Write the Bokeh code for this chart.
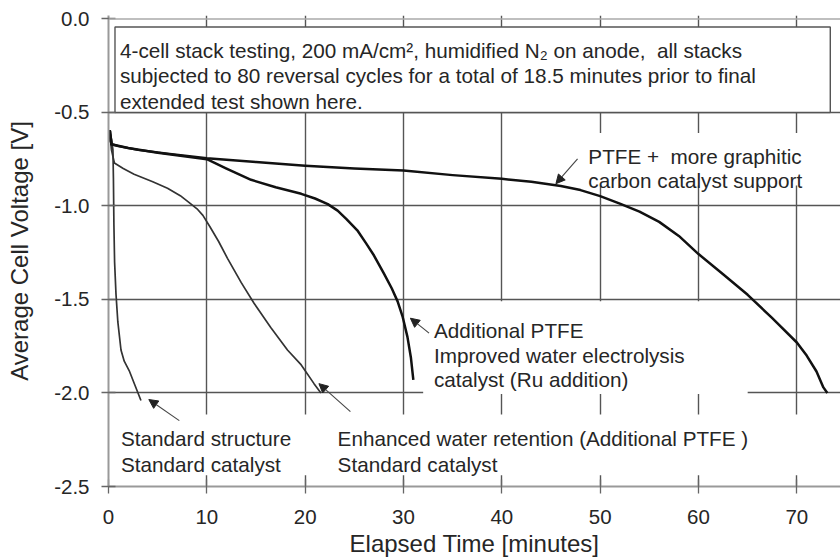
from bokeh.plotting import figure
from bokeh.models import (FixedTicker, Arrow, NormalHead, Label, Span, Range1d,
                          NumeralTickFormatter)
from bokeh.embed import file_html
from bokeh.resources import INLINE

# ---------------- data ----------------
x_ticks = [0, 10, 20, 30, 40, 50, 60, 70]
y_ticks = [0.0, -0.5, -1.0, -1.5, -2.0, -2.5]

# Standard structure / Standard catalyst
std_x = [0.0, 0.15, 0.3, 0.45, 0.5, 0.55, 0.62, 0.76, 0.95, 1.27, 1.6, 2.1, 2.7, 3.3]
std_y = [-0.66, -0.61, -0.64, -0.70, -0.85, -1.10, -1.30, -1.47, -1.62, -1.77, -1.83,
         -1.88, -1.96, -2.04]

# Enhanced water retention (Additional PTFE) / Standard catalyst
ret_x = [0.0, 0.15, 0.3, 0.6, 1.5, 2.6, 4.5, 6.0, 7.3, 8.4, 9.0, 9.6, 10.3, 11.2, 12.1,
         13.5, 14.8, 16.5, 18.2, 19.6, 20.9, 21.6]
ret_y = [-0.66, -0.62, -0.70, -0.77, -0.80, -0.83, -0.87, -0.905, -0.945, -0.99, -1.015,
         -1.05, -1.11, -1.19, -1.28, -1.41, -1.52, -1.65, -1.77, -1.85, -1.95, -2.00]

# Additional PTFE / Improved water electrolysis catalyst (Ru addition)
ru_x = [0.0, 0.15, 0.3, 2.0, 5.0, 10.0, 12.0, 14.5, 17.0, 19.6, 21.0, 22.3, 23.3, 24.2,
        25.3, 26.2, 27.0, 28.0, 28.8, 29.4, 29.9, 30.4, 30.75, 31.0]
ru_y = [-0.64, -0.60, -0.67, -0.69, -0.715, -0.75, -0.80, -0.86, -0.90, -0.935, -0.96,
        -0.99, -1.025, -1.07, -1.13, -1.20, -1.265, -1.36, -1.44, -1.51, -1.59, -1.70,
        -1.81, -1.93]

# PTFE + more graphitic carbon catalyst support
gra_x = [0.0, 0.15, 0.3, 1.0, 3.0, 6.0, 10.0, 15.0, 20.0, 25.0, 30.0, 35.0, 40.0, 43.0,
         46.0, 48.0, 50.0, 52.0, 54.0, 56.0, 58.0, 60.0, 62.5, 65.0, 67.5, 70.0, 71.0,
         72.0, 72.7, 73.1]
gra_y = [-0.64, -0.60, -0.67, -0.68, -0.70, -0.72, -0.745, -0.765, -0.785, -0.80, -0.81,
         -0.835, -0.855, -0.87, -0.893, -0.915, -0.947, -0.987, -1.03, -1.085, -1.16, -1.257,
         -1.365, -1.475, -1.60, -1.73, -1.80, -1.885, -1.97, -2.0]

NB = "\u00a0"
note_lines = ["4-cell stack testing, 200 mA/cm\u00b2, humidified N\u2082 on anode," + NB + " all stacks",
              "subjected to 80 reversal cycles for a total of 18.5 minutes prior to final",
              "extended test shown here."]
std_label = ["Standard structure", "Standard catalyst"]
ret_label = ["Enhanced water retention (Additional PTFE )", "Standard catalyst"]
ru_label = ["Additional PTFE", "Improved water electrolysis", "catalyst (Ru addition)"]
gra_label = ["PTFE +" + NB + " more graphitic", "carbon catalyst support"]

FONT = "Liberation Sans"
TXT = "#262626"
GRID = "#555555"
LBL_SIZE = "20.7px"

p = figure(width=840, height=559, output_backend="svg", toolbar_location=None,
           x_range=Range1d(0, 74.44), y_range=Range1d(-2.5, 0.0186),
           min_border_left=108, min_border_right=0, min_border_top=15,
           min_border_bottom=73)
p.outline_line_color = None
p.background_fill_color = "white"
p.border_fill_color = "white"

# axes
p.xaxis.ticker = FixedTicker(ticks=x_ticks)
p.yaxis.ticker = FixedTicker(ticks=y_ticks)
p.xaxis.formatter = NumeralTickFormatter(format="0")
p.yaxis.formatter = NumeralTickFormatter(format="0.0")
p.xaxis.axis_label = "Elapsed Time [minutes]"
p.yaxis.axis_label = "Average Cell Voltage [V]"
for ax in (p.xaxis[0], p.yaxis[0]):
    ax.axis_line_color = "#999999"
    ax.axis_line_width = 2
    ax.major_tick_line_color = "#666666"
    ax.major_tick_line_width = 1.3
    ax.major_tick_in = 7
    ax.major_tick_out = 7
    ax.minor_tick_line_color = None
    ax.major_label_text_font = FONT
    ax.major_label_text_font_size = "20.5px"
    ax.major_label_text_color = TXT
    ax.axis_label_text_font = FONT
    ax.axis_label_text_font_size = "24px"
    ax.axis_label_text_font_style = "normal"
    ax.axis_label_text_color = TXT
p.xaxis.major_label_standoff = 16
p.xaxis.axis_label_standoff = 3
p.yaxis.major_label_standoff = 12
p.yaxis.axis_label_standoff = 18

# grid
p.xgrid.grid_line_color = GRID
p.xgrid.grid_line_width = 1.4
p.ygrid.ticker = FixedTicker(ticks=[-0.5, -1.0, -1.5, -2.0])
p.ygrid.grid_line_color = GRID
p.ygrid.grid_line_width = 1.4
p.add_layout(Span(location=0.0, dimension="width", line_color="#aaaaaa", line_width=1.5))

# white areas behind the annotations (they hide the grid)
p.quad(left=[47.5, 32.0, 0.8], right=[71.6, 65.0, 74.44],
       top=[-0.61, -1.51, -2.115], bottom=[-0.89, -2.006, -2.44],
       fill_color="white", line_color=None)
# note box
p.quad(left=[0.66], right=[73.4], top=[-0.043], bottom=[-0.5],
       fill_color="white", line_color=GRID, line_width=1.4)

# curves
p.line(std_x, std_y, line_color="#333333", line_width=1.7, line_join="round")
p.line(ret_x, ret_y, line_color="#333333", line_width=1.7, line_join="round")
p.line(ru_x, ru_y, line_color="#111111", line_width=2.5, line_join="round")
p.line(gra_x, gra_y, line_color="#111111", line_width=2.5, line_join="round")

# arrows
def arrow(xs, ys, xe, ye):
    p.add_layout(Arrow(end=NormalHead(size=9, fill_color="#222222", line_color="#222222"),
                       x_start=xs, y_start=ys, x_end=xe, y_end=ye,
                       line_color="#444444", line_width=1.1))

arrow(7.2, -2.148, 4.1, -2.035)
arrow(24.6, -2.10, 21.4, -1.95)
arrow(32.6, -1.68, 30.7, -1.60)
arrow(47.7, -0.748, 45.5, -0.881)

def label_block(lines, x, y0, dy):
    for i, t in enumerate(lines):
        p.add_layout(Label(x=x, y=y0 - i * dy, text=t, text_font=FONT,
                           text_font_size=LBL_SIZE, text_color=TXT,
                           text_baseline="alphabetic", text_align="left"))

label_block(note_lines, 1.17, -0.168, 0.1365)
label_block(std_label, 1.27, -2.244, 0.138)
label_block(ret_label, 23.3, -2.244, 0.138)
label_block(ru_label, 33.1, -1.667, 0.131)
label_block(gra_label, 48.8, -0.737, 0.128)

open("out.html", "w").write(file_html(p, INLINE))
